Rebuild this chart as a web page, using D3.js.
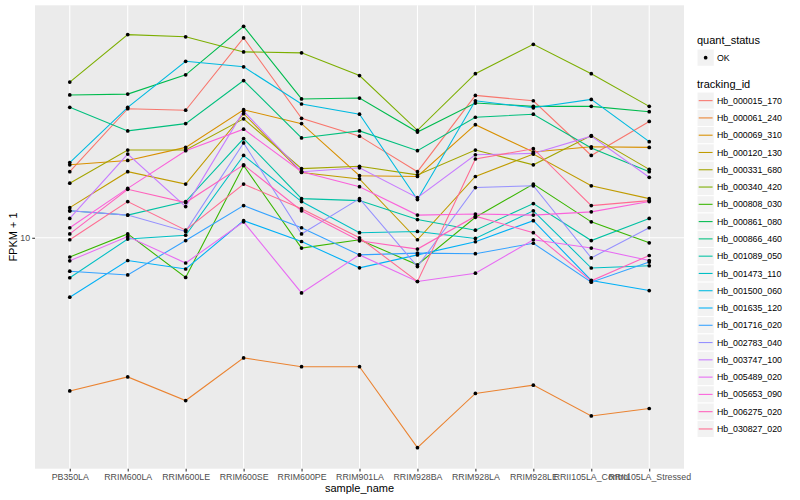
<!DOCTYPE html>
<html>
<head>
<meta charset="utf-8">
<script src="https://cdn.jsdelivr.net/npm/d3@7"></script>
<style>
  body { margin: 0; background: #fff; }
  text { font-family: "Liberation Sans", Arial, Helvetica, sans-serif; }
</style>
</head>
<body>
<svg id="chart" width="800" height="500"></svg>
<script>
(function() {
    'use strict';

    // x categories
    var samples = ['PB350LA', 'RRIM600LA', 'RRIM600LE', 'RRIM600SE', 'RRIM600PE', 'RRIM901LA',
                   'RRIM928BA', 'RRIM928LA', 'RRIM928LE', 'RRII105LA_Control', 'RRII105LA_Stressed'];

    // FPKM + 1 per gene, one value per sample
    var hb_000015_170 = [16.6, 26.9, 26.6, 46.3, 25.0, 21.8, 16.6, 29.8, 28.6, 18.8, 24.4];
    var hb_000061_240 = [3.09, 3.44, 2.87, 3.98, 3.72, 3.72, 2.00, 3.03, 3.23, 2.55, 2.70];
    var hb_000069_310 = [17.5, 18.1, 20.0, 26.7, 24.0, 16.1, 16.0, 23.8, 19.3, 20.1, 20.0];
    var hb_000120_130 = [12.6, 16.6, 15.1, 25.9, 16.5, 15.7, 9.85, 16.0, 19.0, 14.9, 13.5];
    var hb_000331_680 = [15.2, 19.6, 19.6, 24.9, 17.0, 17.3, 16.2, 19.6, 17.5, 21.9, 16.9];
    var hb_000340_420 = [33.0, 47.5, 46.7, 41.6, 41.3, 34.7, 22.8, 35.2, 44.1, 35.2, 27.4];
    var hb_000808_030 = [8.63, 10.3, 7.38, 17.4, 9.24, 9.85, 8.13, 11.7, 15.1, 11.3, 9.62];
    var hb_000861_080 = [29.9, 30.1, 34.9, 50.6, 29.0, 29.2, 22.5, 28.1, 27.4, 27.4, 26.3];
    var hb_000866_460 = [27.2, 22.7, 24.0, 33.4, 21.5, 22.7, 19.5, 25.2, 25.8, 19.9, 16.6];
    var hb_001089_050 = [12.3, 11.9, 13.2, 21.4, 13.5, 13.3, 11.5, 10.6, 13.0, 9.79, 11.6];
    var hb_001473_110 = [7.36, 9.90, 10.2, 18.8, 13.2, 10.4, 10.5, 9.95, 12.3, 7.93, 8.07];
    var hb_001500_060 = [17.8, 27.2, 38.7, 37.1, 27.9, 25.8, 13.4, 28.6, 27.1, 28.9, 20.9];
    var hb_001635_120 = [6.34, 8.40, 7.87, 11.4, 9.72, 7.94, 8.77, 9.70, 11.4, 7.21, 6.67];
    var hb_001716_020 = [7.74, 7.52, 9.79, 12.8, 10.8, 8.77, 8.89, 8.85, 9.59, 7.11, 8.30];
    var hb_002783_040 = [12.3, 11.9, 10.5, 20.7, 10.3, 13.5, 8.02, 14.7, 14.9, 8.57, 10.8];
    var hb_003747_100 = [11.6, 19.0, 12.7, 26.4, 16.6, 17.1, 13.6, 18.9, 19.1, 21.8, 15.9];
    var hb_005489_020 = [8.38, 10.1, 8.24, 11.3, 6.55, 8.77, 7.15, 7.62, 9.85, 9.24, 8.40];
    var hb_005653_090 = [10.8, 14.6, 19.5, 23.0, 16.6, 14.8, 11.9, 12.0, 11.9, 12.2, 13.2];
    var hb_006275_020 = [10.3, 14.5, 13.1, 17.5, 12.3, 9.77, 9.17, 11.8, 10.4, 7.19, 8.73];
    var hb_030827_020 = [9.85, 13.2, 10.6, 15.1, 12.5, 10.0, 7.15, 18.3, 19.8, 12.8, 13.3];

    var trackingIds = ['Hb_000015_170', 'Hb_000061_240', 'Hb_000069_310', 'Hb_000120_130', 'Hb_000331_680',
                       'Hb_000340_420', 'Hb_000808_030', 'Hb_000861_080', 'Hb_000866_460', 'Hb_001089_050',
                       'Hb_001473_110', 'Hb_001500_060', 'Hb_001635_120', 'Hb_001716_020', 'Hb_002783_040',
                       'Hb_003747_100', 'Hb_005489_020', 'Hb_005653_090', 'Hb_006275_020', 'Hb_030827_020'];
    var seriesValues = [hb_000015_170, hb_000061_240, hb_000069_310, hb_000120_130, hb_000331_680,
                        hb_000340_420, hb_000808_030, hb_000861_080, hb_000866_460, hb_001089_050,
                        hb_001473_110, hb_001500_060, hb_001635_120, hb_001716_020, hb_002783_040,
                        hb_003747_100, hb_005489_020, hb_005653_090, hb_006275_020, hb_030827_020];
    var quantStatus = ['OK'];
    var yTicks = [10];

    var colors = ['#F8766D', '#EA8331', '#D89000', '#C09B00', '#A3A500', '#7CAE00', '#39B600', '#00BB4E',
                  '#00BF7D', '#00C1A3', '#00BFC4', '#00BAE0', '#00B0F6', '#35A2FF', '#9590FF', '#C77CFF',
                  '#E76BF3', '#FA62DB', '#FF62BC', '#FF6C91'];

    var data = trackingIds.map(function(id, i) {
        return { id: id, values: seriesValues[i] };
    });

    var panel = { left: 35, right: 684, top: 5.3, bottom: 468.7 };

    var svg = d3.select('#chart');

    var x = d3.scalePoint()
        .domain(samples)
        .range([panel.left, panel.right])
        .padding(0.6);

    // log scale with ggplot-like 5% expansion
    var all = d3.merge(seriesValues);
    var lmin = Math.log10(d3.min(all)),
        lmax = Math.log10(d3.max(all)),
        span = lmax - lmin;
    var y = d3.scaleLog()
        .domain([Math.pow(10, lmin - 0.05 * span), Math.pow(10, lmax + 0.05 * span)])
        .range([panel.bottom, panel.top]);

    var color = d3.scaleOrdinal().domain(trackingIds).range(colors);

    // panel background + grid
    svg.append('rect')
        .attr('x', panel.left).attr('y', panel.top)
        .attr('width', panel.right - panel.left)
        .attr('height', panel.bottom - panel.top)
        .attr('fill', '#EBEBEB');

    svg.append('g').selectAll('line')
        .data(samples)
      .enter().append('line')
        .attr('x1', function(d) { return x(d); })
        .attr('x2', function(d) { return x(d); })
        .attr('y1', panel.top).attr('y2', panel.bottom)
        .attr('stroke', '#fff').attr('stroke-width', 1.07);

    svg.append('g').selectAll('line')
        .data(yTicks)
      .enter().append('line')
        .attr('x1', panel.left).attr('x2', panel.right)
        .attr('y1', function(d) { return y(d); })
        .attr('y2', function(d) { return y(d); })
        .attr('stroke', '#fff').attr('stroke-width', 1.07);

    // lines
    var line = d3.line()
        .x(function(d, i) { return x(samples[i]); })
        .y(function(d) { return y(d); });

    svg.append('g').selectAll('path')
        .data(data)
      .enter().append('path')
        .attr('d', function(d) { return line(d.values); })
        .attr('fill', 'none')
        .attr('stroke', function(d) { return color(d.id); })
        .attr('stroke-width', 1.07);

    // points
    svg.append('g').selectAll('g')
        .data(data)
      .enter().append('g')
        .selectAll('circle')
        .data(function(d) { return d.values; })
      .enter().append('circle')
        .attr('cx', function(d, i) { return x(samples[i]); })
        .attr('cy', function(d) { return y(d); })
        .attr('r', 1.85)
        .attr('fill', '#000');

    // axes
    var xAxis = svg.append('g')
        .attr('transform', 'translate(0,' + panel.bottom + ')')
        .call(d3.axisBottom(x).tickSize(2.75).tickPadding(2.2));
    var yAxis = svg.append('g')
        .attr('transform', 'translate(' + panel.left + ',0)')
        .call(d3.axisLeft(y).tickValues(yTicks).tickFormat(d3.format('d')).tickSize(2.75).tickPadding(2.2));

    [xAxis, yAxis].forEach(function(a) {
        a.select('.domain').remove();
        a.selectAll('line').attr('stroke', '#333333').attr('stroke-width', 1.07);
        a.selectAll('text')
            .attr('fill', '#4D4D4D')
            .style('font-size', '8.8px')
            .style('font-family', '"Liberation Sans", Arial, sans-serif');
    });

    svg.append('text')
        .attr('x', (panel.left + panel.right) / 2)
        .attr('y', 492)
        .attr('text-anchor', 'middle')
        .style('font-size', '11px')
        .text('sample_name');

    svg.append('text')
        .attr('transform', 'translate(16.5,' + (panel.top + panel.bottom) / 2 + ') rotate(-90)')
        .attr('text-anchor', 'middle')
        .style('font-size', '11px')
        .text('FPKM + 1');

    // legends
    var keySize = 17.28,
        legX = 697;

    svg.append('text')
        .attr('x', legX).attr('y', 43.5)
        .style('font-size', '11px')
        .text('quant_status');

    var ok = svg.append('g').selectAll('g')
        .data(quantStatus)
      .enter().append('g')
        .attr('transform', function(d, i) { return 'translate(' + legX + ',' + (49 + i * keySize) + ')'; });
    ok.append('rect')
        .attr('width', keySize).attr('height', keySize)
        .attr('fill', '#F2F2F2').attr('stroke', '#fff');
    ok.append('circle')
        .attr('cx', keySize / 2).attr('cy', keySize / 2)
        .attr('r', 1.85).attr('fill', '#000');
    ok.append('text')
        .attr('x', keySize + 2.6).attr('y', keySize / 2)
        .attr('dy', '.35em')
        .style('font-size', '8.8px')
        .text(function(d) { return d; });

    svg.append('text')
        .attr('x', legX).attr('y', 88)
        .style('font-size', '11px')
        .text('tracking_id');

    var key = svg.append('g').selectAll('g')
        .data(trackingIds)
      .enter().append('g')
        .attr('transform', function(d, i) { return 'translate(' + legX + ',' + (92 + i * keySize) + ')'; });
    key.append('rect')
        .attr('width', keySize).attr('height', keySize)
        .attr('fill', '#F2F2F2').attr('stroke', '#fff');
    key.append('line')
        .attr('x1', 1.7).attr('x2', keySize - 1.7)
        .attr('y1', keySize / 2).attr('y2', keySize / 2)
        .attr('stroke', function(d) { return color(d); })
        .attr('stroke-width', 1.07);
    key.append('text')
        .attr('x', keySize + 2.6).attr('y', keySize / 2)
        .attr('dy', '.35em')
        .style('font-size', '8.8px')
        .text(function(d) { return d; });
})();
</script>
</body>
</html>
